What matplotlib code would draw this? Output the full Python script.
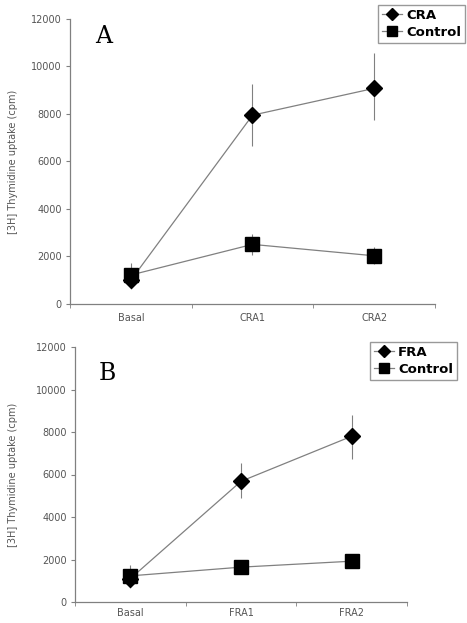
import matplotlib
matplotlib.use("Agg")
import matplotlib.pyplot as plt
from matplotlib.ticker import FixedLocator, NullFormatter

cats_a = ["Basal", "CRA1", "CRA2"]
cra = [1000, 7950, 9080]
cra_err_lo = [380, 1300, 1330]
cra_err_hi = [740, 1300, 1470]
ctrl_a = [1220, 2510, 2030]
ctrl_a_err = [300, 450, 350]

cats_b = ["Basal", "FRA1", "FRA2"]
fra = [1100, 5680, 7800]
fra_err_lo = [450, 770, 1050]
fra_err_hi = [650, 860, 980]
ctrl_b = [1230, 1640, 1920]
ctrl_b_err = [200, 150, 120]

yticks = [0, 2000, 4000, 6000, 8000, 10000, 12000]

W, H = 467, 623
fig = plt.figure(figsize=(W / 100, H / 100), dpi=100)

gray = "#808080"
txtgray = "#555555"


def panel(rect, cats, s1, lo1, hi1, s2, e2, name, letter, letter_pos, leg_anchor, xpad):
    l, t, r, b = rect
    ax = fig.add_axes([l / W, 1 - b / H, (r - l) / W, (b - t) / H])
    x = list(range(len(cats)))
    ax.errorbar(x, s1, yerr=[lo1, hi1], fmt="none", ecolor=gray, elinewidth=0.8,
                capsize=0, zorder=2)
    ax.errorbar(x, s2, yerr=e2, fmt="none", ecolor=gray, elinewidth=0.8,
                capsize=0, zorder=2)
    ax.plot(x, s1, color=gray, lw=0.9, marker="D", ms=8.5, mfc="black", mec="black",
            label=name, zorder=3)
    ax.plot(x, s2, color=gray, lw=0.9, marker="s", ms=10, mfc="black", mec="black",
            label="Control", zorder=3)
    ax.set_xlim(-0.5, len(cats) - 0.5)
    ax.set_ylim(0, 12000)
    ax.set_yticks(yticks)
    ax.set_yticklabels([str(v) for v in yticks], fontsize=7, color=txtgray)
    ax.set_xticks(x)
    ax.set_xticklabels(cats, fontsize=7, color=txtgray)
    ax.xaxis.set_minor_locator(FixedLocator([i - 0.5 for i in range(len(cats) + 1)]))
    ax.xaxis.set_minor_formatter(NullFormatter())
    ax.tick_params(axis="x", which="major", length=0, pad=xpad)
    ax.tick_params(axis="x", which="minor", length=3, color=gray, direction="out")
    ax.tick_params(axis="y", length=3, color=gray, direction="out", pad=3)
    for s in ["top", "right"]:
        ax.spines[s].set_visible(False)
    for s in ["left", "bottom"]:
        ax.spines[s].set_color(gray)
        ax.spines[s].set_linewidth(0.9)
    ax.set_ylabel("[3H] Thymidine uptake (cpm)", fontsize=7, color=txtgray)
    ax.yaxis.set_label_coords((18 - l) / (r - l), 0.5)
    ax.text(letter_pos[0], letter_pos[1], letter, transform=ax.transAxes, fontsize=17,
            family="DejaVu Serif", va="top", ha="left")
    leg = ax.legend(loc="upper right", bbox_to_anchor=leg_anchor,
                    bbox_transform=fig.transFigure, frameon=True, fancybox=False,
                    edgecolor=gray, prop={"weight": "bold", "size": 9.5},
                    handlelength=1.5, handletextpad=0.3, borderpad=0.3,
                    labelspacing=0.3, markerscale=0.7, borderaxespad=0)
    leg.get_frame().set_linewidth(1.0)
    return ax


panel((70, 19, 435, 304), cats_a, cra, cra_err_lo, cra_err_hi, ctrl_a, ctrl_a_err,
      "CRA", "A", (0.07, 0.98), (465 / W, 1 - 5 / H), 6.5)
panel((75, 347, 407, 602), cats_b, fra, fra_err_lo, fra_err_hi, ctrl_b, ctrl_b_err,
      "FRA", "B", (0.07, 0.94), (457 / W, 1 - 342 / H), 4)

fig.savefig("out.png", dpi=100)
